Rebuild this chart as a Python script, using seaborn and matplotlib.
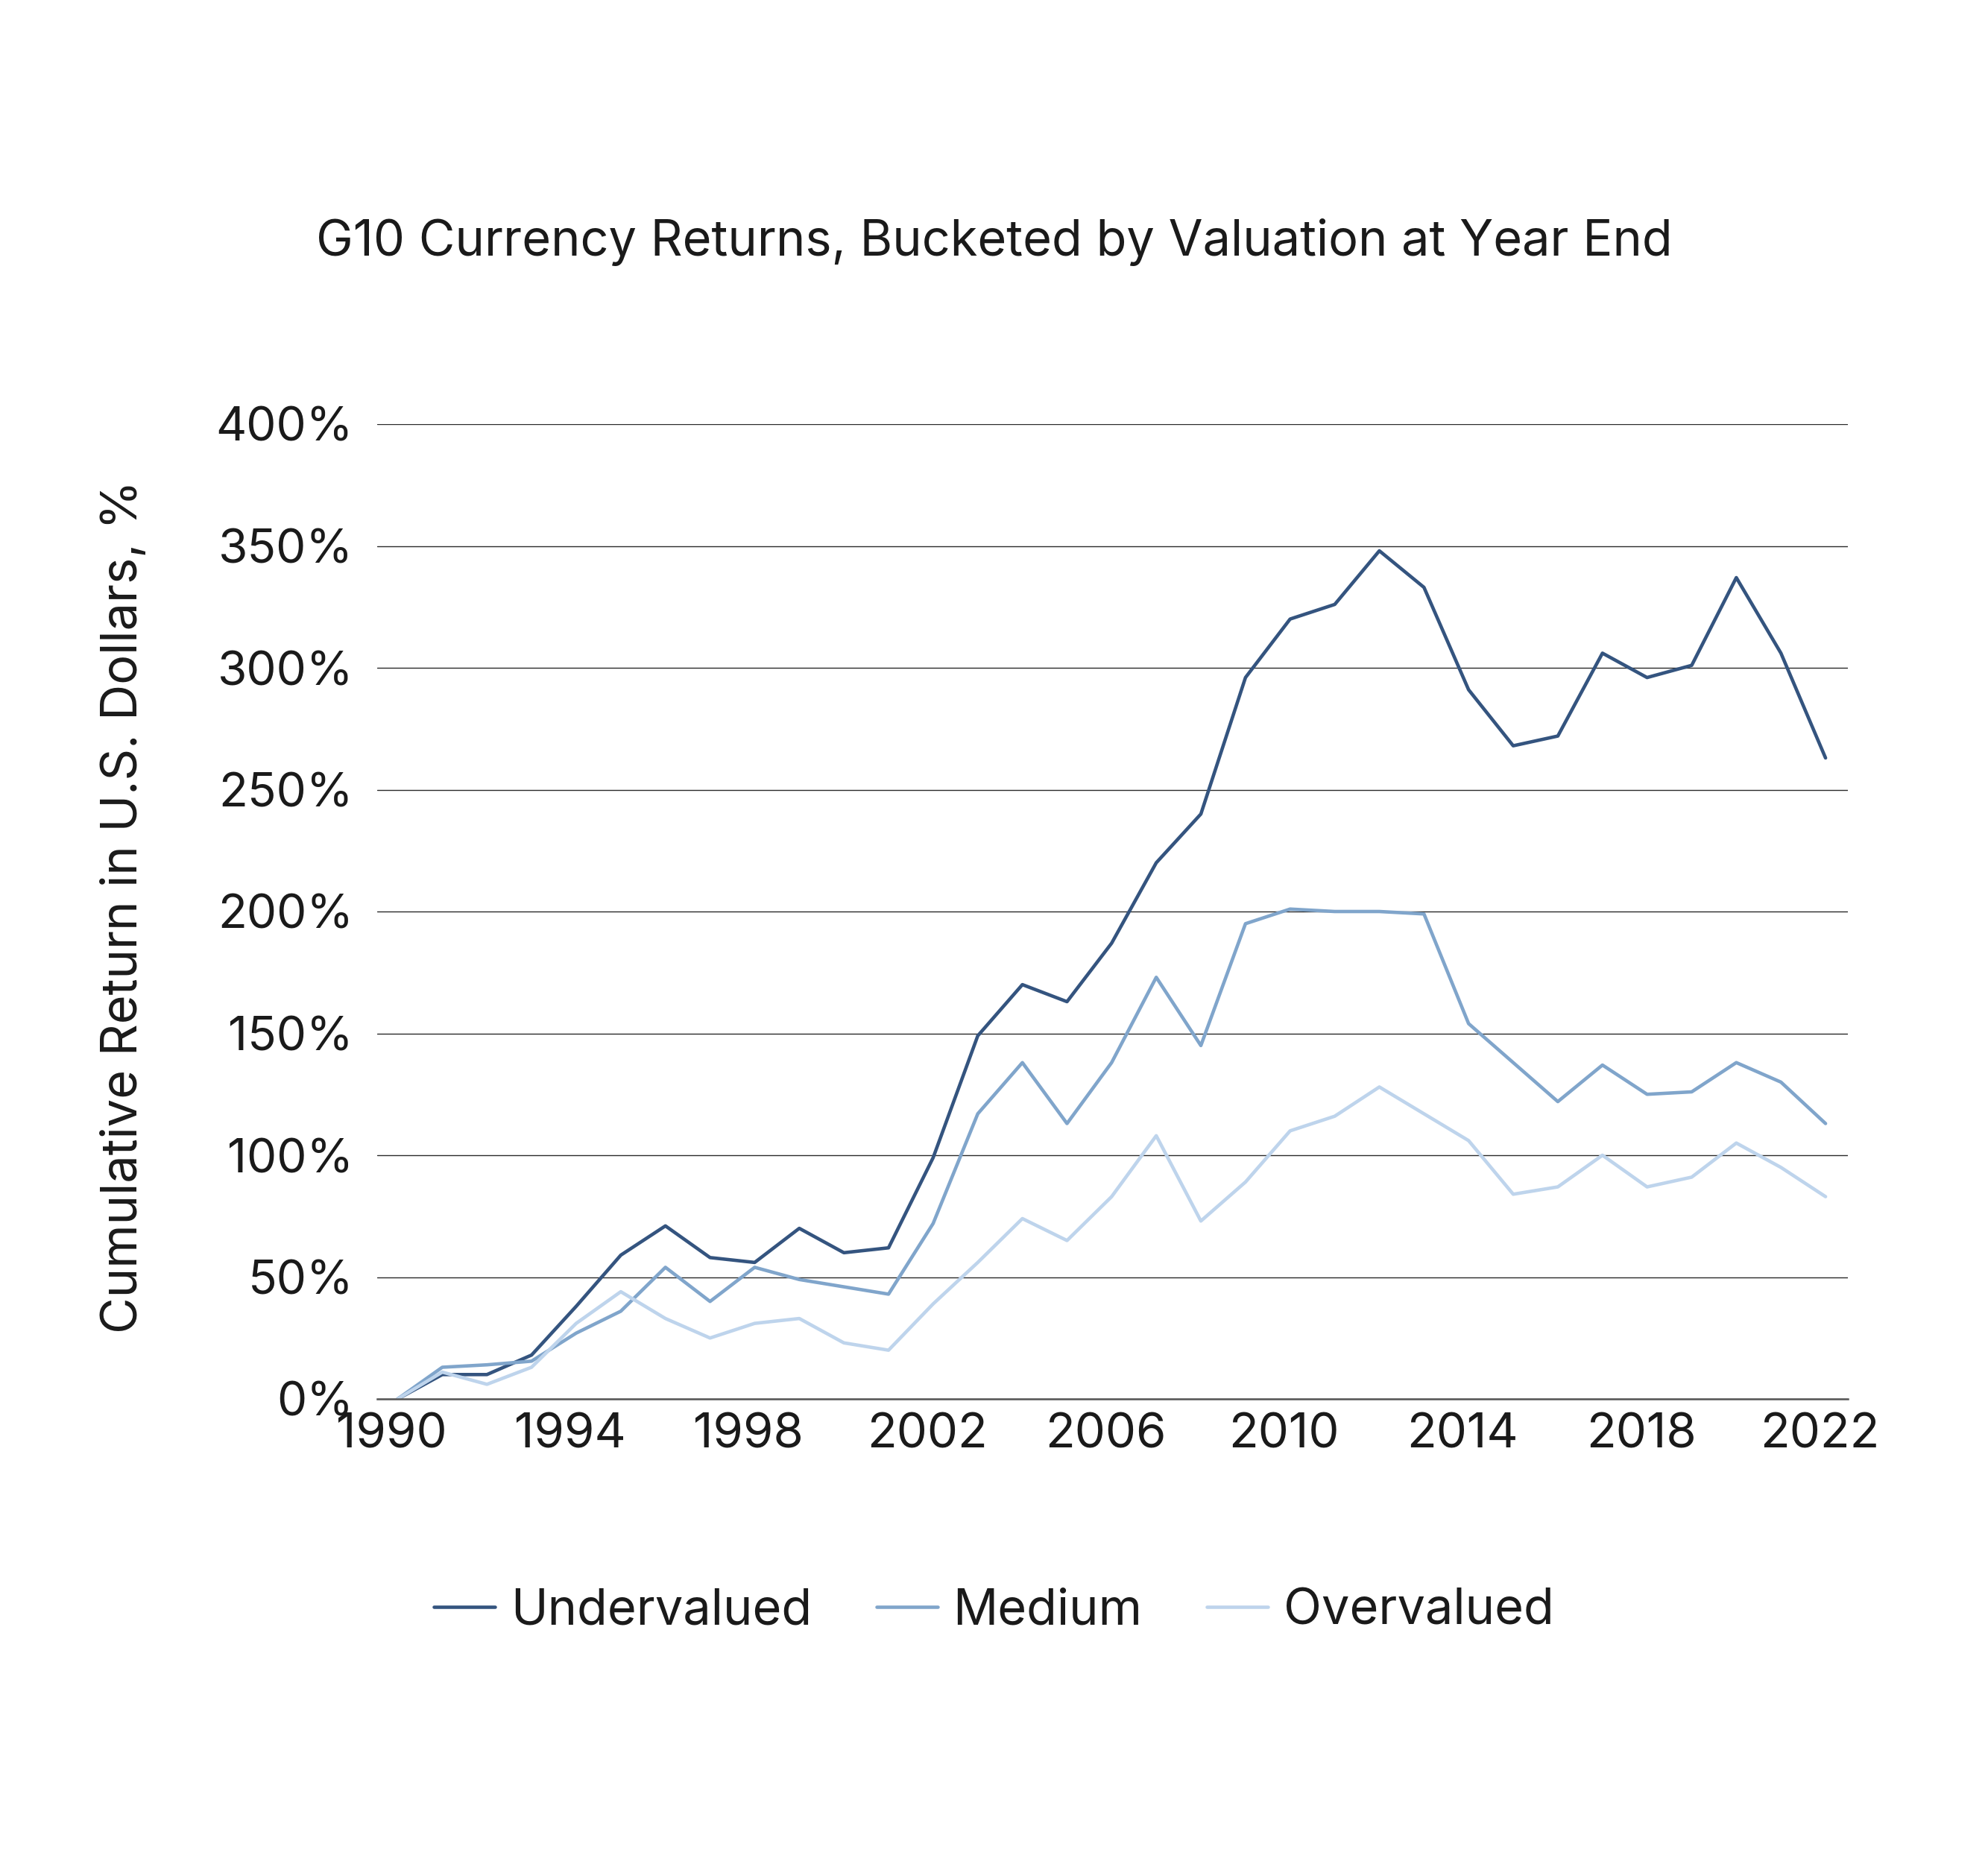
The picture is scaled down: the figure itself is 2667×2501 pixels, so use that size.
import numpy as np
import pandas as pd
import matplotlib
matplotlib.use("Agg")
import matplotlib.pyplot as plt
import matplotlib.transforms as mtransforms
import seaborn as sns

years = list(range(1990, 2023))
undervalued = [0, 10, 10, 18, 38, 59, 71, 58, 56, 70, 60, 62, 99, 149, 170, 163, 187, 220, 240,
               296, 320, 326, 348, 333, 291, 268, 272, 306, 296, 301, 337, 306, 263]
medium = [0, 13, 14, 15.5, 27, 36, 54, 40, 54, 49, 46, 43, 72, 117, 138, 113, 138, 173, 145,
          195, 201, 200, 200, 199, 154, 138, 122, 137, 125, 126, 138, 130, 113]
overvalued = [0, 11, 6, 13, 31, 44, 33, 25, 31, 33, 23, 20, 39, 56, 74, 65, 83, 108, 73,
              89, 110, 116, 128, 117, 106, 84, 87, 100, 87, 91, 105, 95, 83]
series_names = ["Undervalued", "Medium", "Overvalued"]
y_ticks = [0, 50, 100, 150, 200, 250, 300, 350, 400]
x_ticks = list(range(1990, 2023, 4))

df = pd.DataFrame({
    "Year": years * 3,
    "Return": undervalued + medium + overvalued,
    "Bucket": [series_names[0]] * len(years) + [series_names[1]] * len(years) + [series_names[2]] * len(years),
})

sns.set_theme(style="white")
plt.rcParams["font.family"] = ["Inter", "DejaVu Sans"]

W, H = 2667, 2501
fig = plt.figure(figsize=(W / 100, H / 100), dpi=100)
ax = fig.add_axes([506 / W, 1 - 1877 / H, (2479 - 506) / W, (1877 - 569) / H])

palette = {"Undervalued": "#34547f", "Medium": "#80a5cb", "Overvalued": "#bed4ec"}
sns.lineplot(data=df, x="Year", y="Return", hue="Bucket", palette=palette,
             linewidth=3.3, ax=ax, legend=True)

ax.set_xlim(1989.54, 2022.5)
ax.set_ylim(0, 400)
ax.set_yticks(y_ticks)
ax.set_yticklabels([f"{v}%" for v in y_ticks])
ax.set_xticks(x_ticks)
ax.set_xticklabels([str(v) for v in x_ticks])
ax.grid(axis="y", color="#2a2a2a", linewidth=1.0)
ax.set_axisbelow(True)
for s in ["top", "right", "left"]:
    ax.spines[s].set_visible(False)
ax.spines["bottom"].set_color("#555555")
ax.spines["bottom"].set_linewidth(1.8)
ax.tick_params(axis="both", length=0, colors="#1a1a1a")
ax.tick_params(axis="y", pad=23, labelsize=46)
ax.tick_params(axis="x", pad=13, labelsize=47)
offset = mtransforms.ScaledTranslation(-8 / 100, 0, fig.dpi_scale_trans)
for lbl in ax.get_xticklabels():
    lbl.set_transform(lbl.get_transform() + offset)
ax.set_xlabel("")
ax.set_ylabel("Cumulative Return in U.S. Dollars, %", fontsize=48, color="#1a1a1a", va="center")
ax.yaxis.set_label_coords(-0.172, 0.505)

fig.text(0.5, 1 - 325 / H, "G10 Currency Returns, Bucketed by Valuation at Year End",
         ha="center", va="center", fontsize=48, color="#1a1a1a")

handles, labels = ax.get_legend_handles_labels()
ax.get_legend().remove()
fig.legend(handles, labels, loc="center", bbox_to_anchor=(0.5, 1 - 2162 / H), ncol=3,
           frameon=False, fontsize=48, handlelength=1.23, handletextpad=0.31,
           columnspacing=1.3, labelcolor="#1a1a1a")

fig.savefig("out.png", dpi=100, facecolor="white")
